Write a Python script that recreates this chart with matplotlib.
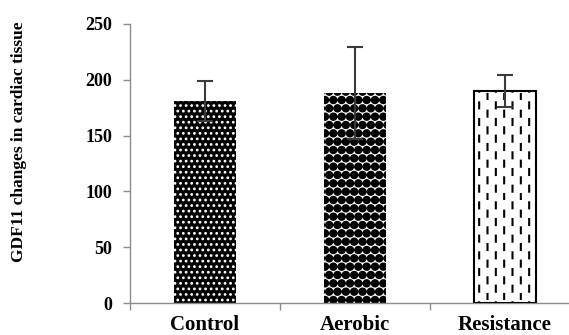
import numpy as np
import matplotlib
matplotlib.use("Agg")
import matplotlib.pyplot as plt
from matplotlib import hatch as mhatch
from matplotlib.path import Path

# ---- data ----
categories = ["Control", "Aerobic", "Resistance"]
means = [181, 188, 190]
errors = [18, 41, 14]
yticks = [0, 50, 100, 150, 200, 250]
ylabel = "GDF11 changes in cardiac tissue"


# ---- custom hatch patterns ----
class DashedVertical(mhatch.HatchPatternBase):
    """short staggered vertical dashes, used for '|'"""
    def __init__(self, hatch, density):
        self.ncols = hatch.count('|') * density
        self.nrows = 6 if self.ncols else 0
        self.num_vertices = self.ncols * self.nrows * 2

    def set_vertices_and_codes(self, vertices, codes):
        idx = 0
        for j in range(self.ncols):
            x = (j + 0.5) / self.ncols
            off = (j % 2) * 0.5 / self.nrows
            for k in range(self.nrows):
                y0 = k / self.nrows + off
                vertices[idx] = (x, y0)
                vertices[idx + 1] = (x, y0 + 0.06)
                codes[idx] = Path.MOVETO
                codes[idx + 1] = Path.LINETO
                idx += 2


class BigFilledCircles(mhatch.Circles):
    size = 0.42
    filled = True

    def __init__(self, hatch, density):
        self.num_rows = hatch.count('O') * density
        super().__init__(hatch, density)


mhatch._hatch_types = [t for t in mhatch._hatch_types
                       if t not in (mhatch.VerticalHatch, mhatch.LargeCircles)]
mhatch._hatch_types += [DashedVertical, BigFilledCircles]

plt.rcParams['font.family'] = ['Liberation Serif', 'DejaVu Serif']
plt.rcParams['font.weight'] = 'bold'

fig = plt.figure(figsize=(5.69, 3.35), dpi=100)
ax = fig.add_axes([130 / 569, 1 - 303 / 335, 450 / 569, (303 - 24) / 335])

x = np.arange(len(categories))
w = 0.41
styles = [
    dict(face='black', hcol='white', hatch='...', hlw=1.2, outline=False),
    dict(face='white', hcol='black', hatch='OO', hlw=1.0, outline=False),
    dict(face='white', hcol='black', hatch='||', hlw=1.5, outline=True),
]
for xi, m, st in zip(x, means, styles):
    b = ax.bar(xi, m, width=w, color=st['face'], edgecolor=st['hcol'],
               hatch=st['hatch'], linewidth=0, zorder=2)
    for p in b:
        try:
            p.set_hatch_linewidth(st['hlw'])
        except AttributeError:
            pass
    if st['outline']:
        ax.bar(xi, m, width=w, facecolor='none', edgecolor='black',
               linewidth=1.5, zorder=3)

ax.errorbar(x, means, yerr=errors, fmt='none', ecolor='#3a3a3a',
            elinewidth=1.5, capsize=6, capthick=1.5, zorder=4)

ax.set_xlim(-0.5, 2.5)
ax.set_ylim(0, 250)
ax.set_yticks(yticks)
ax.set_xticks(x)
ax.set_xticklabels(categories, fontsize=15, fontweight='bold')
ax.set_xticks([-0.5, 0.5, 1.5, 2.5], minor=True)
ax.tick_params(axis='x', which='major', length=0, pad=8.5)
ax.tick_params(axis='x', which='minor', length=5, color='#8c8c8c', width=1)
ax.tick_params(axis='y', length=5, color='#8c8c8c', width=1, labelsize=13, pad=8)
for lab in ax.get_yticklabels():
    lab.set_fontweight('bold')

for s in ['top', 'right']:
    ax.spines[s].set_visible(False)
for s in ['left', 'bottom']:
    ax.spines[s].set_color('#8c8c8c')
    ax.spines[s].set_linewidth(1)

fig.text(19 / 569, 1 - 142 / 335, ylabel, rotation=90, ha='center', va='center',
         fontsize=12.5, fontweight='bold')

fig.savefig("out.png", dpi=100)
